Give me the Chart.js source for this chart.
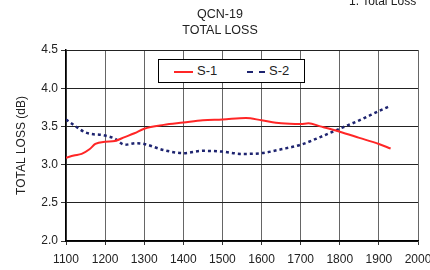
<!DOCTYPE html>
<html><head><meta charset="utf-8">
<script src="https://cdn.jsdelivr.net/npm/chart.js@4/dist/chart.umd.min.js"></script>
<style>
html,body{margin:0;padding:0;background:#fff;}
#wrap{position:relative;width:430px;height:270px;overflow:hidden;font-family:"Liberation Sans",Arial,sans-serif;color:#222;}
canvas{position:absolute;left:0;top:0;}
.t{position:absolute;white-space:nowrap;}
#legend{position:absolute;left:158px;top:59px;width:145px;height:22px;border:1px solid #000;background:#fff;font-size:13px;}
.ln{position:absolute;top:11px;height:0;}
</style></head>
<body>
<div id="wrap">
<canvas id="c" width="430" height="270"></canvas>
<div class="t" style="left:349px;top:-6px;font-size:12px;">1. Total Loss</div>
<div class="t" style="left:0;width:440px;text-align:center;top:7px;font-size:12.5px;">QCN-19</div>
<div class="t" style="left:0;width:440px;text-align:center;top:23px;font-size:12.5px;">TOTAL LOSS</div>
<div id="legend">
  <div class="ln" style="left:15px;width:19px;border-top:2px solid #ff2626;"></div>
  <div class="t" style="left:38px;top:3px;">S-1</div>
  <div class="ln" style="left:88px;width:18px;border-top:2.5px dashed #1e2470;"></div>
  <div class="t" style="left:110px;top:3px;">S-2</div>
</div>
</div>
<script>
const xTicks = [1100,1200,1300,1400,1500,1600,1700,1800,1900,2000];
const yTicks = [2.0,2.5,3.0,3.5,4.0,4.5];
const s1X = [1100,1120,1140,1160,1175,1200,1225,1250,1275,1300,1350,1400,1450,1500,1560,1600,1650,1700,1720,1750,1800,1850,1900,1930];
const s1Y = [3.09,3.12,3.14,3.20,3.27,3.30,3.31,3.36,3.41,3.47,3.52,3.55,3.58,3.59,3.61,3.58,3.54,3.53,3.54,3.50,3.43,3.35,3.27,3.21];
const s2X = [1100,1125,1150,1200,1225,1250,1280,1300,1350,1400,1450,1500,1550,1600,1650,1700,1750,1800,1850,1900,1930];
const s2Y = [3.59,3.50,3.42,3.38,3.34,3.26,3.28,3.27,3.19,3.15,3.18,3.17,3.14,3.15,3.20,3.26,3.36,3.47,3.58,3.70,3.77];

const pts = (xs, ys) => xs.map((x,i)=>({x:x,y:ys[i]}));

new Chart(document.getElementById('c'), {
  type:'line',
  data:{datasets:[
    {label:'S-1',data:pts(s1X,s1Y),borderColor:'#ff2626',borderWidth:2,pointRadius:0,cubicInterpolationMode:'monotone',fill:false},
    {label:'S-2',data:pts(s2X,s2Y),borderColor:'#1e2470',borderWidth:2.5,borderDash:[3,3],pointRadius:0,cubicInterpolationMode:'monotone',fill:false}
  ]},
  options:{
    responsive:false,animation:false,
    layout:{padding:{top:50,left:14,right:12,bottom:0}},
    plugins:{legend:{display:false},title:{display:false},tooltip:{enabled:false}},
    scales:{
      x:{type:'linear',min:1100,max:2000,
        afterBuildTicks:s=>{s.ticks=xTicks.map(v=>({value:v}));},
        afterFit:s=>{s.height=29;s.paddingLeft=0;s.paddingRight=0;},
        grid:{color:'#666',lineWidth:1,drawTicks:true,tickLength:4,tickColor:'#333'},
        border:{color:'#000',width:1.5},
        ticks:{color:'#222',font:{family:'Liberation Sans',size:12},padding:7,maxRotation:0,autoSkip:false,callback:v=>String(v)}
      },
      y:{min:2,max:4.5,
        afterBuildTicks:s=>{s.ticks=yTicks.map(v=>({value:v}));},
        afterFit:s=>{s.width=52;s.paddingTop=0;s.paddingBottom=0;},
        grid:{color:'#222',lineWidth:1,drawTicks:true,tickLength:5,tickColor:'#333'},
        border:{color:'#000',width:1.5},
        ticks:{color:'#222',font:{family:'Liberation Sans',size:12},padding:3,callback:v=>Number(v).toFixed(1)},
        title:{display:true,text:'TOTAL LOSS (dB)',color:'#222',font:{family:'Liberation Sans',size:12},padding:{top:0,bottom:2}}
      }
    }
  }
});
</script>
</body></html>
